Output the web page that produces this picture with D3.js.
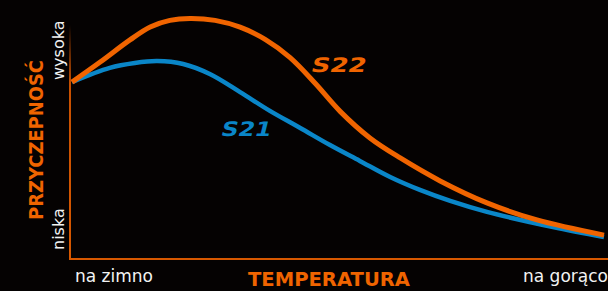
<!DOCTYPE html>
<html lang="pl">
    <head>
        <meta charset="utf-8" />
        <title>Przyczepność</title>
        <script src="https://d3js.org/d3.v7.min.js"></script>
        <style>
            html, body { margin:0; padding:0; overflow:hidden; background-color:#050202 }
            svg { display:block }
        </style>
    </head>
    <body>
        <svg id="svg" width="608" height="291"></svg>
        <script>
            // temperature (0..100) vs grip (0..100)
            let tempS22 = [0, 5.3, 10.9, 14.7, 18.4, 22.2, 26.9, 31.6, 36.3, 41, 45.7, 50.4, 56, 61.7, 69.2, 78, 87.4, 100];
            let gripS22 = [72.5, 80.7, 89.8, 95.1, 97.8, 98.6, 97.8, 95, 90, 82.5, 72, 60.5, 49.6, 41.4, 32, 23, 16, 9.8];
            let tempS21 = [0, 7.1, 11.8, 16, 20.9, 25.9, 31.6, 37.2, 42.9, 48.5, 54.1, 59.8, 65.4, 71.1, 78, 90.4, 100];
            let gripS21 = [72.5, 78.3, 80.3, 81.1, 79.9, 75.8, 68.4, 60.7, 53.7, 46.7, 40.2, 33.6, 28.3, 23.8, 19.3, 13.1, 9];
            let xLabels = ["na zimno", "na gorąco"];
            let yLabels = ["niska", "wysoka"];

            let svg = d3.select("#svg");
            let orange = "#f06400";
            let blue = "#0a86c8";

            let x = d3.scaleLinear().domain([0, 100]).range([72, 604]);
            let y = d3.scaleLinear().domain([0, 100]).range([259, 15]);

            let defs = svg.append("defs");
            let grad = defs.append("linearGradient")
                .attr("id", "fade")
                .attr("x1", 0).attr("y1", 0).attr("x2", 0).attr("y2", 1);
            grad.append("stop").attr("offset", "0%").attr("stop-color", "#c85000").attr("stop-opacity", 0);
            grad.append("stop").attr("offset", "25%").attr("stop-color", "#c85000").attr("stop-opacity", 1);
            grad.append("stop").attr("offset", "100%").attr("stop-color", "#d85800").attr("stop-opacity", 1);

            // axes
            svg.append("rect")
                .attr("x", 69).attr("y", 25)
                .attr("width", 2).attr("height", 235)
                .attr("fill", "url(#fade)");
            svg.append("line")
                .attr("x1", 69).attr("x2", 608)
                .attr("y1", 259).attr("y2", 259)
                .attr("stroke", "#d85800")
                .attr("stroke-width", 2);

            let line = d3.line()
                .curve(d3.curveCatmullRom.alpha(0.5))
                .x(d => x(d[0]))
                .y(d => y(d[1]));

            svg.append("path")
                .attr("d", line(d3.zip(tempS21, gripS21)))
                .attr("fill", "none")
                .attr("stroke", blue)
                .attr("stroke-width", 4.5);

            svg.append("path")
                .attr("d", line(d3.zip(tempS22, gripS22)))
                .attr("fill", "none")
                .attr("stroke", orange)
                .attr("stroke-width", 5);

            // series labels
            svg.append("text")
                .attr("transform", "translate(310,72) skewX(-14)")
                .attr("fill", orange)
                .attr("font-family", "DejaVu Sans")
                .attr("font-weight", "bold")
                .attr("font-size", 20)
                .attr("textLength", 55)
                .attr("lengthAdjust", "spacingAndGlyphs")
                .text("S22");
            svg.append("text")
                .attr("transform", "translate(220,136) skewX(-14)")
                .attr("fill", blue)
                .attr("font-family", "DejaVu Sans")
                .attr("font-weight", "bold")
                .attr("font-size", 20)
                .attr("textLength", 50)
                .attr("lengthAdjust", "spacingAndGlyphs")
                .text("S21");

            // x axis labels
            svg.append("text")
                .attr("x", 75).attr("y", 282)
                .attr("fill", "#f2f2f2")
                .attr("font-family", "DejaVu Sans")
                .attr("font-size", 17)
                .text(xLabels[0]);
            svg.append("text")
                .attr("x", 523).attr("y", 282)
                .attr("fill", "#f2f2f2")
                .attr("font-family", "DejaVu Sans")
                .attr("font-size", 17)
                .text(xLabels[1]);
            svg.append("text")
                .attr("x", 248).attr("y", 286)
                .attr("fill", orange)
                .attr("font-family", "DejaVu Sans")
                .attr("font-weight", "bold")
                .attr("font-size", 20)
                .attr("textLength", 162)
                .attr("lengthAdjust", "spacingAndGlyphs")
                .text("TEMPERATURA");

            // y axis labels
            svg.append("text")
                .attr("transform", "translate(64,250) rotate(-90)")
                .attr("fill", "#f2f2f2")
                .attr("font-family", "DejaVu Sans")
                .attr("font-size", 16)
                .text(yLabels[0]);
            svg.append("text")
                .attr("transform", "translate(64,80) rotate(-90)")
                .attr("fill", "#f2f2f2")
                .attr("font-family", "DejaVu Sans")
                .attr("font-size", 16)
                .text(yLabels[1]);
            svg.append("text")
                .attr("transform", "translate(43,220) rotate(-90)")
                .attr("fill", orange)
                .attr("font-family", "DejaVu Sans")
                .attr("font-weight", "bold")
                .attr("font-size", 20)
                .attr("textLength", 160)
                .attr("lengthAdjust", "spacingAndGlyphs")
                .text("PRZYCZEPNOŚĆ");
        </script>
    </body>
</html>
